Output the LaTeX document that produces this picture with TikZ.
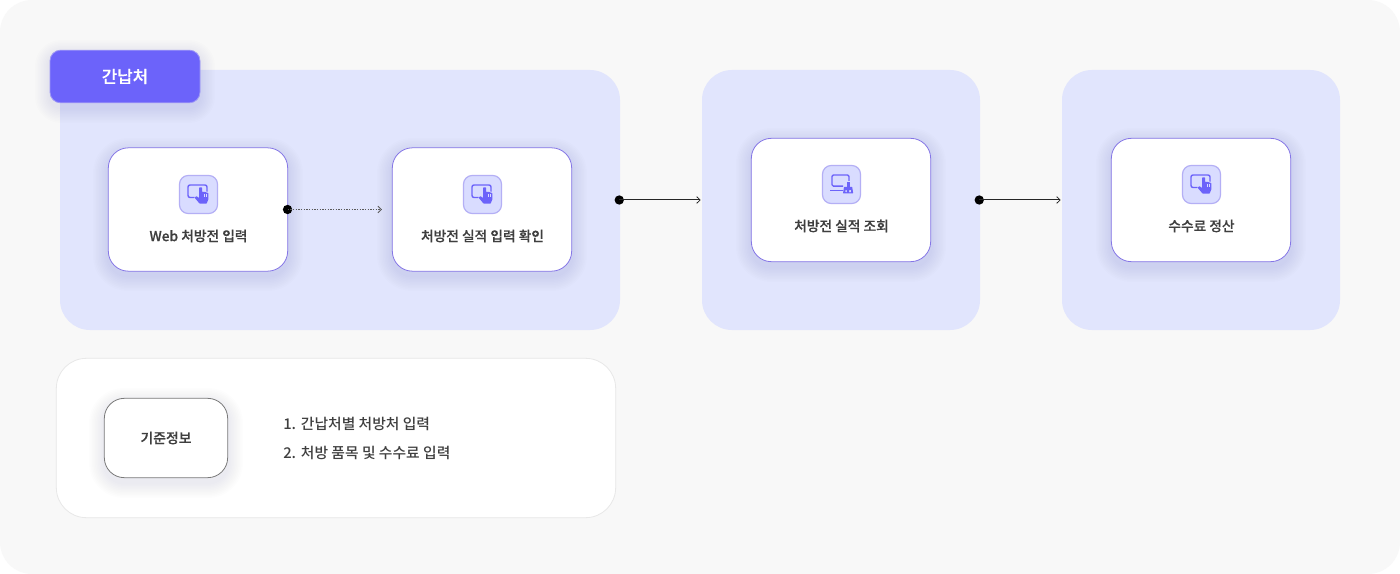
\documentclass[tikz,border=0pt]{standalone}
\usepackage{fontspec}
\setmainfont{Noto Sans CJK KR}
\newfontfamily\krmed[FakeBold=0.35]{Noto Sans CJK KR Medium}
\newfontfamily\krlist{Noto Sans CJK KR Medium}
\usetikzlibrary{arrows.meta,calc}
\definecolor{pagebg}{HTML}{F8F8F8}
\definecolor{panelc}{HTML}{E1E5FD}
\definecolor{accent}{HTML}{6C63FA}
\definecolor{cardline}{HTML}{8576E6}
\definecolor{iconfill}{HTML}{D9DCFF}
\definecolor{iconline}{HTML}{B4AFF5}
\definecolor{inkc}{HTML}{3F3F3F}
\definecolor{shadowc}{HTML}{3A3A78}
% soft shadow: x1 y1 x2 y2 radius
\newcommand{\softshadow}[5]{%
  \foreach \g in {1,...,10}{%
    \fill[shadowc,opacity=0.006,rounded corners={(#5+\g*1.5)*0.75pt}]
      ($(#1,#2)+(-\g*1.5,-\g*1.5+5)$) rectangle ($(#3,#4)+(\g*1.5,\g*1.5+5)$);
  }%
}
\newcommand{\tapicon}[1]{%
  \begin{scope}[shift={(#1)}]
    \draw[accent,line width=1.05pt,rounded corners=1.5pt] (-3.5,4.5) -- (-10,4.5) -- (-10,-8) -- (9,-8) -- (9,-1);
    \fill[iconfill] (-2,5) -- (1,-6) -- (5,-6) -- (5,-2) -- (11,-1) -- (11,7) -- (8,11.5) -- (1,11.5) -- (-4,5) -- cycle;
    \fill[accent,rounded corners=0.3pt] (-3.5,4.6) -- (-1.5,3.2) -- (1.2,5) -- (1.2,-5.5) -- (4,-5.5) -- (4,-1.2) -- (6.4,-1.2) -- (8.5,-0.6) -- (10.4,0.2) -- (10.4,6.2) -- (8.6,10.6) -- (1.6,10.6) -- cycle;
    \draw[iconfill,line width=0.35pt] (6,0.8) -- (6,3.8) (8.2,1) -- (8.2,3.8);
  \end{scope}}
\newcommand{\brushicon}[1]{%
  \begin{scope}[shift={(#1)}]
    \draw[accent,line width=1.05pt,rounded corners=1pt] (2,2.6) -- (-9,2.6) -- (-9,-8.5) -- (8,-8.5) -- (8,-2.5);
    \draw[accent,line width=1.05pt] (-11,6.8) -- (2,6.8);
    \fill[accent] (5.8,-1.5) rectangle (8.6,3.5);
    \fill[accent,even odd rule,rounded corners=0.4pt] (3,3.3) -- (11.2,3.3) -- (12.2,10) -- (2,10) -- cycle (4.4,6.5) rectangle (5.8,8.8) (8,6.5) rectangle (10.2,8.8);
  \end{scope}}
\tikzset{
  x=0.75pt,y=-0.75pt,
  panel/.style={fill=panelc,rounded corners=22.5pt,minimum width=#1*0.75pt,minimum height=195pt,inner sep=0pt},
  card/.style={fill=white,draw=cardline,line width=0.6pt,rounded corners=15pt,minimum width=134.5pt,minimum height=92.5pt,inner sep=0pt},
  iconbox/.style={fill=iconfill,draw=iconline,line width=0.9pt,rounded corners=6.5pt,minimum size=28.5pt,inner sep=0pt},
  cardtext/.style={text=inkc,font=\krmed\fontsize{10.3pt}{12pt}\selectfont,inner sep=0pt},
  listtext/.style={text=inkc,font=\krlist\fontsize{11.1pt}{13pt}\selectfont,inner sep=0pt,anchor=west},
  dotmark/.style={circle,fill=black,minimum size=7pt,inner sep=0pt},
  flow/.style={draw=black!85,line width=0.75pt,-{Straight Barb[length=2.6pt,width=5pt,line width=0.6pt]}},
}
\begin{document}
\begin{tikzpicture}
\useasboundingbox (0,0) rectangle (1400,574);
\fill[white] (0,0) rectangle (1400,574);
\fill[pagebg,rounded corners=24pt] (0,0) rectangle (1400,574);
% panels
\node[panel=560] (p1) at (340,200) {};
\node[panel=278] (p2) at (841,200) {};
\node[panel=278] (p3) at (1201,200) {};
% tag
\softshadow{50}{50}{200}{103}{11}
\node[fill=accent,draw=iconline!70!accent,line width=0.6pt,rounded corners=8pt,minimum width=112.5pt,minimum height=39.5pt,inner sep=0pt,text=white,font=\krmed\fontsize{12.6pt}{15pt}\selectfont] (tag) at (125,76.5) {간납처};
% cards
\softshadow{108}{148}{288}{271}{20}
\softshadow{392}{148}{572}{271}{20}
\softshadow{751}{138}{931}{262}{20}
\softshadow{1111}{138}{1291}{262}{20}
\node[card] (c1) at (198,209.5) {};
\node[card] (c2) at (482,209.5) {};
\node[card] (c3) at (841,200) {};
\node[card] (c4) at (1201,200) {};
% icons
\node[iconbox] (i1) at (198.5,194.5) {};
\node[iconbox] (i2) at (482.5,194.5) {};
\node[iconbox] (i3) at (841.5,184.5) {};
\node[iconbox] (i4) at (1201.5,184.5) {};
\tapicon{198,193}
\tapicon{482,193}
\brushicon{841,183.5}
\tapicon{1201,183}
% card labels
\node[cardtext] (t1) at (198.5,236) {Web 처방전 입력};
\node[cardtext] (t2) at (482.5,236) {처방전 실적 입력 확인};
\node[cardtext] (t3) at (841.5,226) {처방전 실적 조회};
\node[cardtext] (t4) at (1201.5,226) {수수료 정산};
% connectors
\node[dotmark,xshift=-0.4pt] (d1) at (c1.east) {};
\node[dotmark,xshift=-0.75pt] (d2) at (p1.east) {};
\node[dotmark,xshift=-0.75pt] (d3) at (p2.east) {};
\draw[flow,draw=black!65,line width=0.9pt,dash pattern=on 1.1pt off 0.9pt] (d1.center) -- ($(c2.west)+(-10,0)$);
\draw[flow] (d2.center) -- ($(p2.west)+(-1,0)$);
\draw[flow] (d3.center) -- ($(p3.west)+(-1,0)$);
% info card
\node[fill=white,draw=black!9,line width=0.6pt,rounded corners=22.5pt,minimum width=419.5pt,minimum height=119.5pt,inner sep=0pt] (info) at (336,438) {};
\softshadow{104}{398}{228}{478}{20}
\node[fill=white,draw=black!52,line width=0.6pt,rounded corners=15pt,minimum width=92.5pt,minimum height=59.5pt,inner sep=0pt,text=inkc,font=\krmed\fontsize{10.4pt}{12pt}\selectfont] (base) at (166,438) {기준정보};
\node[listtext] (l1) at (283,424) {1.\hspace{3.6pt}간납처별 처방처 입력};
\node[listtext] (l2) at (283,453) {2.\hspace{3.6pt}처방 품목 및 수수료 입력};
\end{tikzpicture}
\end{document}
